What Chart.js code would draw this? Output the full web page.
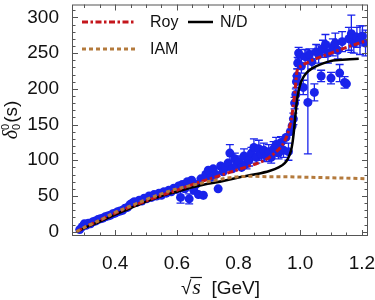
<!DOCTYPE html>
<html>
<head>
<meta charset="utf-8">
<script src="https://cdn.jsdelivr.net/npm/chart.js@4.4.0/dist/chart.umd.min.js"></script>
<style>
html, body { margin: 0; padding: 0; background: #fff; }
#wrap { width: 375px; height: 300px; position: relative; }
</style>
</head>
<body>
<div id="wrap"><canvas id="myChart"></canvas></div>
<script>
// curves
var royX = [0.275, 0.30, 0.35, 0.40, 0.45, 0.50, 0.55, 0.60, 0.65, 0.70, 0.75, 0.80, 0.85, 0.88, 0.90, 0.92, 0.94, 0.95, 0.96, 0.97, 0.975, 0.98, 0.985, 0.99, 1.00, 1.02, 1.05, 1.10, 1.15, 1.22];
var royY = [0, 6, 16, 26, 35, 43, 51, 58, 66, 73, 80, 87, 94, 99, 104, 111, 120, 127, 138, 155, 168, 185, 205, 225, 231, 236, 242, 250, 258, 268];

var ndX = [0.275, 0.30, 0.35, 0.40, 0.45, 0.50, 0.55, 0.60, 0.65, 0.70, 0.75, 0.80, 0.85, 0.90, 0.93, 0.95, 0.96, 0.97, 0.975, 0.98, 0.985, 0.99, 0.995, 1.00, 1.01, 1.02, 1.04, 1.07, 1.10, 1.15, 1.19];
var ndY = [0, 5, 14, 24, 33, 42, 50, 56, 62, 67, 71, 76, 80, 85, 90, 96, 102, 113, 124, 142, 165, 185, 197, 206, 216, 222, 229, 235, 239, 241, 242];

var iamX = [0.275, 0.30, 0.35, 0.40, 0.45, 0.50, 0.55, 0.60, 0.65, 0.70, 0.75, 0.80, 0.85, 0.90, 0.95, 1.00, 1.05, 1.10, 1.15, 1.22];
var iamY = [0, 6, 16, 27, 36, 45, 53, 60, 65, 70, 74, 77, 77.5, 77, 77, 76.5, 76, 75.5, 75, 74];

// experimental points
var dataX = [0.285, 0.293, 0.300, 0.306, 0.313, 0.320, 0.328, 0.336, 0.344, 0.352, 0.360, 0.368, 0.376, 0.384, 0.392, 0.400, 0.408, 0.416, 0.424, 0.432, 0.440, 0.448, 0.455, 0.462, 0.470, 0.478, 0.486, 0.494, 0.502, 0.510, 0.518, 0.526, 0.534, 0.542, 0.550, 0.558, 0.566, 0.574, 0.582, 0.590, 0.598, 0.606, 0.612, 0.618, 0.626, 0.634, 0.640, 0.648, 0.655, 0.662, 0.670, 0.678, 0.686, 0.694, 0.702, 0.710, 0.718, 0.726, 0.734, 0.742, 0.750, 0.758, 0.766, 0.772, 0.780, 0.788, 0.794, 0.802, 0.810, 0.818, 0.826, 0.834, 0.842, 0.850, 0.858, 0.866, 0.874, 0.882, 0.890, 0.898, 0.906, 0.914, 0.922, 0.930, 0.938, 0.946, 0.954, 0.962, 0.968, 0.974, 0.978, 0.982, 0.986, 0.988, 0.990, 0.992, 0.995, 1.004, 1.010, 1.016, 1.025, 1.030, 1.038, 1.046, 1.052, 1.060, 1.068, 1.074, 1.082, 1.090, 1.100, 1.106, 1.114, 1.122, 1.128, 1.136, 1.144, 1.150, 1.158, 1.166, 1.174, 1.184, 1.194, 1.202, 1.212];
var dataY = [3, 7, 11, 9, 12, 11, 14, 15, 17, 18, 19, 21, 22, 23, 25, 26, 28, 29, 30, 33, 34, 38, 40, 42, 41, 44, 43, 47, 46, 50, 48, 52, 50, 54, 51, 56, 54, 58, 56, 61, 59, 64, 48, 66, 60, 70, 46, 72, 58, 66, 52, 74, 51, 80, 86, 76, 88, 80, 60, 92, 84, 90, 96, 110, 88, 102, 94, 98, 90, 106, 95, 100, 110, 118, 104, 116, 108, 114, 106, 112, 104, 116, 122, 110, 125, 114, 132, 112, 140, 148, 158, 180, 192, 210, 218, 236, 250, 232, 202, 245, 181, 248, 238, 195, 252, 248, 218, 256, 262, 250, 215, 258, 264, 254, 222, 266, 209, 207, 270, 277, 264, 272, 268, 274, 264];
var dataErr = [2, 2, 2, 2, 2, 2, 2, 2, 2, 2, 2, 2, 2, 2, 2, 2, 2, 2, 2, 2, 2, 3, 3, 3, 3, 3, 3, 3, 3, 3, 3, 3, 3, 3, 3, 3, 3, 3, 3, 3, 4, 4, 8, 4, 4, 4, 7, 4, 6, 5, 6, 5, 6, 5, 5, 5, 5, 6, 4, 6, 6, 6, 6, 12, 6, 8, 6, 8, 6, 10, 7, 8, 8, 12, 8, 12, 8, 10, 8, 10, 8, 10, 10, 8, 8, 10, 6, 12, 6, 6, 8, 8, 8, 8, 10, 8, 8, 10, 10, 10, 72, 8, 10, 12, 10, 12, 8, 12, 14, 14, 8, 12, 14, 12, 12, 14, 8, 6, 16, 26, 14, 14, 20, 14, 18];

var xTicks = [0.4, 0.6, 0.8, 1.0, 1.2];
var yTicks = [0, 50, 100, 150, 200, 250, 300];

var blue = 'rgb(25,35,235)';
var red = '#c4161c';
var brown = '#b47a3c';
var font = "'Liberation Sans', Arial, sans-serif";

function pts(xs, ys) {
    return xs.map(function(x, i) { return { x: x, y: ys[i] }; });
}

// error bars drawn under the points
var errorBars = {
    id: 'errorBars',
    beforeDatasetsDraw: function(chart) {
        var ctx = chart.ctx, sx = chart.scales.x, sy = chart.scales.y, a = chart.chartArea;
        ctx.save();
        ctx.beginPath();
        ctx.rect(a.left, a.top, a.right - a.left, a.bottom - a.top);
        ctx.clip();
        ctx.strokeStyle = blue;
        ctx.lineWidth = 1.3;
        dataX.forEach(function(x, i) {
            var px = sx.getPixelForValue(x);
            var py = sy.getPixelForValue(dataY[i]);
            var t = sy.getPixelForValue(dataY[i] + dataErr[i]);
            var b = sy.getPixelForValue(dataY[i] - dataErr[i]);
            ctx.beginPath();
            ctx.moveTo(px, t); ctx.lineTo(px, b);
            if (py - t > 4.5) {
                ctx.moveTo(px - 4, t); ctx.lineTo(px + 4, t);
                ctx.moveTo(px - 4, b); ctx.lineTo(px + 4, b);
            }
            ctx.stroke();
        });
        ctx.restore();
    }
};

// frame with inward ticks, axis titles and legend
var decorations = {
    id: 'decorations',
    afterDraw: function(chart) {
        var ctx = chart.ctx, sx = chart.scales.x, sy = chart.scales.y, a = chart.chartArea;
        ctx.save();
        ctx.strokeStyle = '#555';
        ctx.lineWidth = 1;
        ctx.strokeRect(a.left + 0.5, a.top + 0.5, a.right - a.left - 1, a.bottom - a.top - 1);
        ctx.beginPath();
        var v, p, len;
        for (v = 0.25; v <= 1.2201; v += 0.05) {
            p = Math.round(sx.getPixelForValue(v)) + 0.5;
            if (p < a.left || p > a.right) continue;
            len = Math.abs(Math.round(v * 100) % 20) === 0 ? 6 : 3.5;
            ctx.moveTo(p, a.bottom); ctx.lineTo(p, a.bottom - len);
            ctx.moveTo(p, a.top); ctx.lineTo(p, a.top + len);
        }
        for (v = -10; v <= 320; v += 10) {
            p = Math.round(sy.getPixelForValue(v)) + 0.5;
            if (p < a.top || p > a.bottom) continue;
            len = v % 50 === 0 ? 6 : 3.5;
            ctx.moveTo(a.left, p); ctx.lineTo(a.left + len, p);
            ctx.moveTo(a.right, p); ctx.lineTo(a.right - len, p);
        }
        ctx.stroke();

        // x title: sqrt(s) [GeV]
        ctx.fillStyle = '#111';
        ctx.textBaseline = 'alphabetic';
        ctx.textAlign = 'left';
        var f1 = '19px ' + font, f2 = 'italic 22px "Liberation Serif", "Times New Roman", serif';
        ctx.font = f1; var wR = ctx.measureText('\u221A').width;
        ctx.font = f2; var wS = ctx.measureText('s').width;
        ctx.font = f1; var wG = ctx.measureText('  [GeV]').width;
        var x0 = (a.left + a.right) / 2 - (wR + wS + wG) / 2, by = 294;
        ctx.font = f1; ctx.fillText('\u221A', x0, by);
        ctx.font = f2; ctx.fillText('s', x0 + wR + 1, by);
        ctx.font = f1; ctx.fillText('  [GeV]', x0 + wR + wS + 1, by);
        ctx.beginPath();
        ctx.strokeStyle = '#111';
        ctx.lineWidth = 1.2;
        ctx.moveTo(x0 + wR - 1, 277.5); ctx.lineTo(x0 + wR + wS + 2, 277.5);
        ctx.stroke();

        // y title: delta_0^0(s)
        ctx.save();
        ctx.translate(17, 120);
        ctx.rotate(-Math.PI / 2);
        var fd = 'italic 20px "Liberation Serif", "Times New Roman", serif', fs = '11px ' + font;
        ctx.font = fd; var wd = ctx.measureText('\u03B4').width;
        ctx.font = fs; var w0 = ctx.measureText('0').width;
        ctx.font = f1; var wp = ctx.measureText('(s)').width;
        var tx = -(wd + w0 + 1 + wp) / 2;
        ctx.font = fd; ctx.fillText('\u03B4', tx, 0);
        ctx.font = fs; ctx.fillText('0', tx + wd, -8); ctx.fillText('0', tx + wd, 3);
        ctx.font = f1; ctx.fillText('(s)', tx + wd + w0 + 1, 0);
        ctx.restore();

        // legend
        var items = [
            { label: 'Roy', color: red, dash: [6, 2.5, 2.5, 2.5], width: 3, x1: 82, x2: 135, tx: 150, y: 22 },
            { label: 'N/D', color: '#000', dash: [], width: 2.5, x1: 188, x2: 213, tx: 220, y: 22 },
            { label: 'IAM', color: brown, dash: [4, 3], width: 3, x1: 82, x2: 135, tx: 150, y: 49 }
        ];
        ctx.font = '16px ' + font;
        ctx.textBaseline = 'middle';
        items.forEach(function(it) {
            ctx.beginPath();
            ctx.setLineDash(it.dash);
            ctx.strokeStyle = it.color;
            ctx.lineWidth = it.width;
            ctx.moveTo(it.x1, it.y); ctx.lineTo(it.x2, it.y);
            ctx.stroke();
            ctx.setLineDash([]);
            ctx.fillStyle = '#111';
            ctx.fillText(it.label, it.tx, it.y + 1);
        });
        ctx.restore();
    }
};

var ctx = document.getElementById('myChart');

var myChart = new Chart(ctx.getContext('2d'), {
    type: 'scatter',
    data: {
        datasets: [
            { label: 'IAM', data: pts(iamX, iamY), showLine: true, borderColor: brown, borderWidth: 3, borderDash: [4, 3], pointRadius: 0, cubicInterpolationMode: 'monotone' },
            { label: 'Roy', data: pts(royX, royY), showLine: true, borderColor: red, borderWidth: 3, borderDash: [6, 2.5, 2.5, 2.5], pointRadius: 0, cubicInterpolationMode: 'monotone' },
            { label: 'N/D', data: pts(ndX, ndY), showLine: true, borderColor: '#000', borderWidth: 2.5, pointRadius: 0, cubicInterpolationMode: 'monotone' },
            { label: 'data', data: pts(dataX, dataY), showLine: false, pointRadius: 4.5, pointBackgroundColor: blue, pointBorderWidth: 0 }
        ]
    },
    options: {
        responsive: true,
        maintainAspectRatio: false,
        animation: false,
        layout: { padding: { top: 1, right: 7, left: 0, bottom: 0 } },
        plugins: {
            legend: { display: false },
            tooltip: { enabled: false }
        },
        scales: {
            x: {
                type: 'linear',
                min: 0.26,
                max: 1.22,
                afterBuildTicks: function(scale) {
                    scale.ticks = xTicks.map(function(v) { return { value: v }; });
                },
                afterFit: function(scale) {
                    scale.height = 64;
                    scale.paddingLeft = 0;
                    scale.paddingRight = 0;
                },
                grid: { display: false },
                border: { display: false },
                ticks: {
                    padding: 8,
                    color: '#111',
                    font: { family: font, size: 19 },
                    maxRotation: 0,
                    callback: function(v) { return Number(v).toFixed(1); }
                }
            },
            y: {
                min: -6,
                max: 318,
                afterBuildTicks: function(scale) {
                    scale.ticks = yTicks.map(function(v) { return { value: v }; });
                },
                afterFit: function(scale) {
                    scale.width = 72;
                    scale.paddingTop = 0;
                    scale.paddingBottom = 0;
                },
                grid: { display: false },
                border: { display: false },
                ticks: {
                    padding: 5,
                    color: '#111',
                    font: { family: font, size: 19 }
                }
            }
        }
    },
    plugins: [errorBars, decorations]
});
</script>
</body>
</html>
